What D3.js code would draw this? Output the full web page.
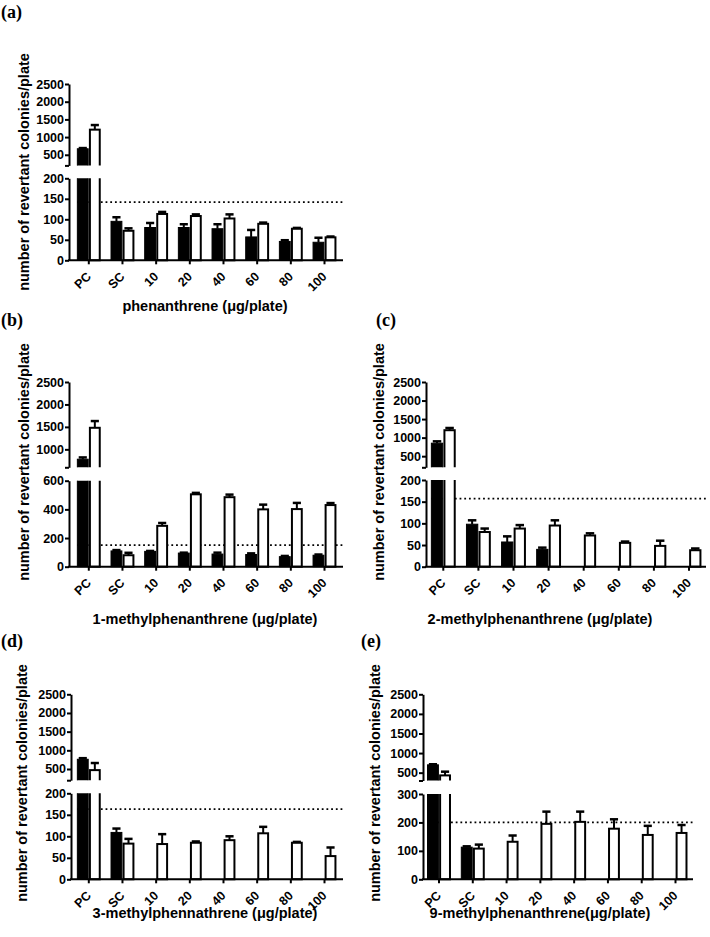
<!DOCTYPE html>
<html>
<head>
<meta charset="utf-8">
<script src="https://cdn.jsdelivr.net/npm/d3@7"></script>
<style>
  html, body { margin: 0; padding: 0; background: #fff; }
  svg { display: block; }
  text { font-family: "Liberation Sans", Arial, sans-serif; font-weight: bold; fill: #000; }
  .plabel { font-family: "Liberation Serif", "Times New Roman", serif; font-size: 18px; }
</style>
</head>
<body>
<svg id="chart" width="710" height="937"></svg>
<script>
// ---------------- DATA ----------------
const categories = ["PC", "SC", "10", "20", "40", "60", "80", "100"];
const seriesNames = ["-S9", "+S9"];

// (a) phenanthrene
const phenMinus   = [670, 95, 80, 80, 77, 57, 46, 44];
const phenMinusSD = [20, 10, 11, 8, 11, 17, 3, 11];
const phenPlus    = [1210, 72, 113, 108, 102, 89, 77, 56];
const phenPlusSD  = [130, 6, 5, 4, 10, 3, 2, 2];

// (b) 1-methylphenanthrene
const mp1Minus   = [780, 110, 107, 95, 88, 85, 70, 80];
const mp1MinusSD = [40, 6, 3, 3, 10, 8, 5, 5];
const mp1Plus    = [1480, 80, 285, 505, 485, 400, 402, 430];
const mp1PlusSD  = [150, 17, 20, 10, 18, 33, 43, 14];

// (c) 2-methylphenanthrene
const mp2Minus   = [850, 98, 57, 40, null, null, null, null];
const mp2MinusSD = [50, 9, 13, 4, null, null, null, null];
const mp2Plus    = [1200, 80, 88, 95, 72, 55, 48, 38];
const mp2PlusSD  = [60, 8, 8, 12, 5, 3, 12, 4];

// (d) 3-methylphenanthrene
const mp3Minus   = [760, 109, null, null, null, null, null, null];
const mp3MinusSD = [30, 9, null, null, null, null, null, null];
const mp3Plus    = [470, 83, 82, 85, 91, 107, 85, 54];
const mp3PlusSD  = [190, 11, 23, 3, 9, 15, 2, 20];

// (e) 9-methylphenanthrene
const mp9Minus   = [700, 113, null, null, null, null, null, null];
const mp9MinusSD = [15, 3, null, null, null, null, null, null];
const mp9Plus    = [430, 108, 132, 195, 202, 178, 156, 163];
const mp9PlusSD  = [95, 14, 22, 43, 36, 33, 32, 28];

// dotted reference lines
const thresholds = [142, 150, 157, 163, 200];

// axis breaks and tick labels
const lowerDomains = [[0, 200], [0, 600], [0, 200], [0, 200], [0, 300]];
const upperDomains = [[200, 2500], [600, 2500], [200, 2500], [200, 2500], [300, 2500]];
const upperTicksA = [500, 1000, 1500, 2000, 2500];
const upperTicksB = [1000, 1500, 2000, 2500];
const lowerTicks50 = [0, 50, 100, 150, 200];
const lowerTicks200 = [0, 200, 400, 600];
const lowerTicks100 = [0, 100, 200, 300];

const panelLabels = ["(a)", "(b)", "(c)", "(d)", "(e)"];
const xTitles = [
  "phenanthrene (\u03bcg/plate)",
  "1-methylphenanthrene (\u03bcg/plate)",
  "2-methylphenanthrene (\u03bcg/plate)",
  "3-methylphennathrene (\u03bcg/plate)",
  "9-methylphenanthrene(\u03bcg/plate)"
];
const yTitle = "number of revertant colonies/plate";

// ---------------- LAYOUT ----------------
const layouts = [
  { axisX: 69, axisRight: 343, firstC: 88.8, lastC: 324.5, upTop: 84, upBottom: 165.4, lowTop: 178.3, lowBottom: 260.3,
    labelX: 1, labelY: 18, yTitleX: 29, yTitleY: 172, xTitleX: 205, xTitleY: 311 },
  { axisX: 69, axisRight: 343, firstC: 88.8, lastC: 324.5, upTop: 382, upBottom: 467.3, lowTop: 480.7, lowBottom: 566.7,
    labelX: 1, labelY: 326, yTitleX: 29, yTitleY: 462, xTitleX: 205, xTitleY: 624 },
  { axisX: 426, axisRight: 706, firstC: 443.3, lastC: 689, upTop: 382, upBottom: 467.3, lowTop: 480, lowBottom: 566.7,
    labelX: 376, labelY: 326, yTitleX: 384, yTitleY: 462, xTitleX: 540, xTitleY: 624 },
  { axisX: 71, axisRight: 343, firstC: 88.8, lastC: 324.5, upTop: 694.3, upBottom: 780.2, lowTop: 793.3, lowBottom: 879.3,
    labelX: 1, labelY: 647, yTitleX: 27, yTitleY: 783, xTitleX: 205, xTitleY: 918 },
  { axisX: 423, axisRight: 693, firstC: 439, lastC: 675.5, upTop: 694.3, upBottom: 780.5, lowTop: 794, lowBottom: 879.3,
    labelX: 361, labelY: 647, yTitleX: 380, yTitleY: 783, xTitleX: 540, xTitleY: 918 }
];

const panels = [
  { minus: phenMinus, minusSD: phenMinusSD, plus: phenPlus, plusSD: phenPlusSD, upTicks: upperTicksA, lowTicks: lowerTicks50 },
  { minus: mp1Minus, minusSD: mp1MinusSD, plus: mp1Plus, plusSD: mp1PlusSD, upTicks: upperTicksB, lowTicks: lowerTicks200 },
  { minus: mp2Minus, minusSD: mp2MinusSD, plus: mp2Plus, plusSD: mp2PlusSD, upTicks: upperTicksA, lowTicks: lowerTicks50 },
  { minus: mp3Minus, minusSD: mp3MinusSD, plus: mp3Plus, plusSD: mp3PlusSD, upTicks: upperTicksA, lowTicks: lowerTicks50 },
  { minus: mp9Minus, minusSD: mp9MinusSD, plus: mp9Plus, plusSD: mp9PlusSD, upTicks: upperTicksA, lowTicks: lowerTicks100 }
];

const svg = d3.select("#chart");
svg.append("rect").attr("width", 710).attr("height", 937).attr("fill", "#fff");

panels.forEach((p, i) => drawPanel(p, i));

function drawPanel(p, i) {
  const L = layouts[i];
  const g = svg.append("g");
  const step = (L.lastC - L.firstC) / (categories.length - 1);
  const pi = 0.32;
  const x0 = d3.scaleBand().domain(categories)
    .range([L.firstC - step / 2, L.lastC + step / 2])
    .paddingInner(pi).paddingOuter(pi / 2);
  const x1 = d3.scaleBand().domain(seriesNames).range([0, x0.bandwidth()]).paddingInner(0.1);
  const yLow = d3.scaleLinear().domain(lowerDomains[i]).range([L.lowBottom, L.lowTop]);
  const yUp = d3.scaleLinear().domain(upperDomains[i]).range([L.upBottom, L.upTop]);
  const lowMax = lowerDomains[i][1];
  const upMin = upperDomains[i][0];

  const rows = [];
  categories.forEach((c, k) => {
    rows.push({ cat: c, s: seriesNames[0], v: p.minus[k], sd: p.minusSD[k] });
    rows.push({ cat: c, s: seriesNames[1], v: p.plus[k], sd: p.plusSD[k] });
  });
  const valid = rows.filter(d => d.v !== null);

  // dotted threshold line (behind the bars)
  g.append("line")
    .attr("x1", x0(categories[0])).attr("x2", L.axisRight)
    .attr("y1", yLow(thresholds[i])).attr("y2", yLow(thresholds[i]))
    .attr("stroke", "#000").attr("stroke-width", 1.8).attr("stroke-dasharray", "1.8,2.9");

  // clip paths
  const idLow = "clipLow" + i, idUp = "clipUp" + i;
  const defs = svg.append("defs");
  defs.append("clipPath").attr("id", idLow).append("rect")
    .attr("x", L.axisX).attr("y", L.lowTop).attr("width", L.axisRight - L.axisX + 5).attr("height", L.lowBottom - L.lowTop + 3);
  defs.append("clipPath").attr("id", idUp).append("rect")
    .attr("x", L.axisX).attr("y", L.upTop - 30).attr("width", L.axisRight - L.axisX + 5).attr("height", L.upBottom - L.upTop + 30);

  const isMinus = d => d.s === seriesNames[0];
  const styleBar = sel => sel
    .attr("fill", d => isMinus(d) ? "#000" : "#fff")
    .attr("stroke", "#000")
    .attr("stroke-width", d => isMinus(d) ? 1 : 2);

  // lower segment bars
  g.append("g").attr("clip-path", `url(#${idLow})`)
    .selectAll("rect").data(valid).join("rect")
    .attr("x", d => x0(d.cat) + x1(d.s) + (isMinus(d) ? 0 : 0.5))
    .attr("width", d => x1.bandwidth() - (isMinus(d) ? 0 : 1))
    .attr("y", d => d.v <= lowMax ? yLow(d.v) : L.lowTop - 10)
    .attr("height", d => yLow(0) - (d.v <= lowMax ? yLow(d.v) : L.lowTop - 10))
    .call(styleBar);

  // upper segment bars
  const big = valid.filter(d => d.v > upMin);
  g.append("g").attr("clip-path", `url(#${idUp})`)
    .selectAll("rect").data(big).join("rect")
    .attr("x", d => x0(d.cat) + x1(d.s) + (isMinus(d) ? 0 : 0.5))
    .attr("width", d => x1.bandwidth() - (isMinus(d) ? 0 : 1))
    .attr("y", d => yUp(d.v))
    .attr("height", d => L.upBottom + 10 - yUp(d.v))
    .call(styleBar);

  // error bars (upward only)
  const yFor = (v, ref) => (ref > lowMax ? yUp(v) : yLow(v));
  const capW = x1.bandwidth() * 0.75;
  const eb = g.append("g").attr("stroke", "#000");
  valid.forEach(d => {
    const cx = x0(d.cat) + x1(d.s) + x1.bandwidth() / 2;
    const yb = yFor(d.v, d.v);
    const yt = yFor(d.v + d.sd, d.v);
    eb.append("line").attr("x1", cx).attr("x2", cx).attr("y1", yb).attr("y2", yt).attr("stroke-width", 2);
    eb.append("line").attr("x1", cx - capW / 2).attr("x2", cx + capW / 2).attr("y1", yt).attr("y2", yt).attr("stroke-width", 2.5);
  });

  // y axes (two segments)
  const styleAxis = sel => {
    sel.attr("font-family", null).attr("font-size", null);
    sel.selectAll("path.domain").attr("stroke-width", 2).attr("stroke", "#000");
    sel.selectAll(".tick line").attr("stroke-width", 2).attr("stroke", "#000");
    sel.selectAll(".tick text").style("font-size", "12.5px").attr("fill", "#000");
  };
  g.append("g").attr("transform", `translate(${L.axisX},0)`)
    .call(d3.axisLeft(yUp).tickValues([upMin].concat(p.upTicks)).tickSize(4).tickSizeOuter(0).tickPadding(1)
      .tickFormat(d => d === upMin ? "" : d))
    .call(styleAxis);
  g.append("g").attr("transform", `translate(${L.axisX},0)`)
    .call(d3.axisLeft(yLow).tickValues(p.lowTicks).tickSize(4).tickSizeOuter(0).tickPadding(1).tickFormat(d => d))
    .call(styleAxis);

  // x axis: ticks from the band scale, labels rotated -45
  const xa = g.append("g").attr("transform", `translate(0,${L.lowBottom})`)
    .call(d3.axisBottom(x0).tickSize(4).tickSizeOuter(0).tickFormat(""))
    .call(styleAxis);
  xa.select("path.domain").remove();
  xa.append("line").attr("x1", L.axisX - 1).attr("x2", L.axisRight).attr("y1", 0).attr("y2", 0)
    .attr("stroke", "#000").attr("stroke-width", 2);
  xa.append("g").selectAll("text").data(categories).join("text")
    .attr("text-anchor", "end")
    .attr("transform", c => `translate(${(x0(c) + x0.bandwidth() / 2 + 3).toFixed(2)},17) rotate(-45)`)
    .style("font-size", "12.5px")
    .text(c => c);

  // titles
  svg.append("text").attr("class", "plabel").attr("x", L.labelX).attr("y", L.labelY).text(panelLabels[i]);
  svg.append("text").attr("text-anchor", "middle").style("font-size", "14.5px")
    .attr("transform", `translate(${L.yTitleX},${L.yTitleY}) rotate(-90)`).text(yTitle);
  svg.append("text").attr("text-anchor", "middle").style("font-size", "14.5px")
    .attr("x", L.xTitleX).attr("y", L.xTitleY).text(xTitles[i]);
}
</script>
</body>
</html>
